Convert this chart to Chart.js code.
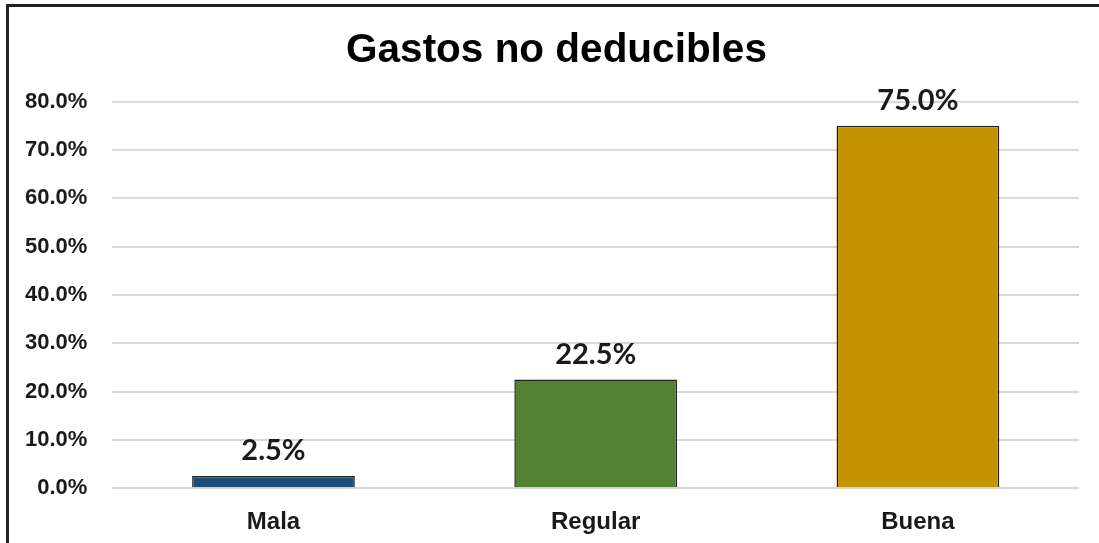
<!DOCTYPE html>
<html>
<head>
<meta charset="utf-8">
<script src="https://cdn.jsdelivr.net/npm/chart.js@4"></script>
<style>
  html, body { margin: 0; padding: 0; background: #fff; }
  #wrap { position: relative; width: 1099px; height: 543px; }
  #frame { position: absolute; left: 6px; top: 4px; right: -10px; bottom: -10px;
           border-left: 3px solid #222; border-top: 3px solid #222; pointer-events: none; }
</style>
</head>
<body>
<div id="wrap">
  <canvas id="myChart" width="1099" height="543"></canvas>
  <div id="frame"></div>
</div>
<script>
let labels = ['Mala', 'Regular', 'Buena'];
let values = [0.025, 0.225, 0.75];
let colors = ['#1F4E79', '#548235', '#C49400'];

let pct = v => (v * 100).toFixed(1) + '%';

// etiquetas encima de cada barra
let barLabels = {
    id: 'barLabels',
    afterLayout(chart) {
        // el titulo va un poco a la derecha, como en el original
        chart.titleBlock.left += 34;
    },
    afterDatasetsDraw(chart) {
        let ctx = chart.ctx;
        let meta = chart.getDatasetMeta(0);
        ctx.save();
        ctx.font = 'bold 29px Lato, Carlito, sans-serif';
        ctx.fillStyle = '#1a1a1a';
        ctx.textAlign = 'center';
        ctx.textBaseline = 'middle';
        meta.data.forEach((bar, i) => {
            ctx.fillText(pct(values[i]), bar.x, bar.y - 25);
        });
        ctx.restore();
    }
};

let myChart = new Chart(document.getElementById('myChart'), {
    type: 'bar',
    data: {
        labels: labels,
        datasets: [
            {
                data: values,
                backgroundColor: colors,
                borderColor: '#222',
                borderWidth: 1.5,
                barPercentage: 0.505,
                categoryPercentage: 1
            }
        ]
    },
    options: {
        responsive: false,
        animation: false,
        layout: { padding: { top: 16, left: 0, right: 20, bottom: -14 } },
        plugins: {
            legend: { display: false },
            tooltip: { enabled: false },
            title: {
                display: true,
                text: 'Gastos no deducibles',
                color: '#000',
                font: { family: 'Arial, Liberation Sans', size: 40.5, weight: 'bold' },
                padding: { top: 11, bottom: 26 }
            }
        },
        scales: {
            y: {
                min: 0,
                max: 0.8,
                ticks: {
                    stepSize: 0.1,
                    callback: v => pct(v),
                    color: '#1a1a1a',
                    padding: 25,
                    font: { family: 'Arial, Liberation Sans', size: 22, weight: 'bold' }
                },
                grid: { color: '#d9d9d9', lineWidth: 2, drawTicks: false },
                border: { display: false }
            },
            x: {
                ticks: {
                    color: '#1a1a1a',
                    padding: 20,
                    font: { family: 'Arial, Liberation Sans', size: 24, weight: 'bold' }
                },
                grid: { display: false, drawTicks: false },
                border: { display: false }
            }
        }
    },
    plugins: [barLabels]
});
</script>
</body>
</html>
